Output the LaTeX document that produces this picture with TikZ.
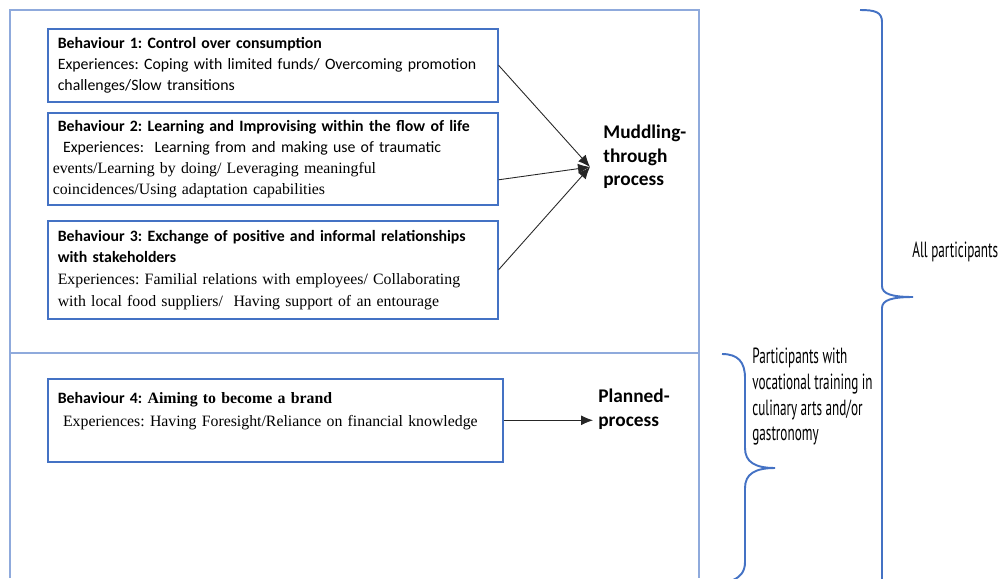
\documentclass[tikz,border=0pt]{standalone}
\usepackage{fontspec}
\setmainfont{Liberation Serif}
\newfontfamily\calibri{Carlito}
\newfontfamily\agency[FakeStretch=0.6]{PT Sans}
\usepackage{tikz}
\usetikzlibrary{calc,arrows.meta}
\usepackage{xcolor}
\frenchspacing

\definecolor{boxblue}{RGB}{68,114,196}
\definecolor{frameblue}{RGB}{143,170,220}

\tikzset{
    behaviour/.style={draw=boxblue, line width=0.9pt, anchor=north west,
        text width=8.6cm, align=left, inner xsep=2mm, inner ysep=1mm,
        font=\fontsize{9}{12}\selectfont},
    process/.style={anchor=west, align=left, inner xsep=1mm,
        font=\calibri\bfseries\fontsize{11}{13.4}\selectfont},
    grouplabel/.style={align=left, inner sep=0pt,
        font=\agency\fontsize{12.5}{14.6}\selectfont},
    brace/.style={draw=boxblue, line width=1.1pt},
    link/.style={draw=black!85, line width=0.5pt, -{Latex[length=2.4mm,width=2mm]}}
}

\begin{document}
\begin{tikzpicture}[x=0.2mm, y=-0.2mm]
    \useasboundingbox (0,0) rectangle (1003,578);

    % Rahmen und Trennlinie
    \draw[frameblue, line width=0.7pt] (10,578) -- (10,10) -- (699,10) -- (699,578);
    \draw[frameblue, line width=0.7pt] (10,353) -- (699,353);

    % Verhaltensweisen
    \node[behaviour, minimum height=1.46cm] (b1) at (47,28) {%
        {\calibri\textbf{Behaviour 1: Control over consumption}}\\
        {\calibri Experiences: Coping with limited funds/ Overcoming promotion}\\
        {\calibri challenges/Slow transitions}};
    \node[behaviour, minimum height=1.84cm] (b2) at (47,112) {%
        {\calibri\textbf{Behaviour 2: Learning and Improvising within the flow of life}}\\
        {\calibri\ Experiences:\ \ Learning from and making use of traumatic}\\
        \hspace*{-1mm}events/Learning by doing/ Leveraging meaningful\\
        \hspace*{-1mm}coincidences/Using adaptation capabilities};
    \node[behaviour, minimum height=1.96cm, font=\fontsize{9}{12.3}\selectfont] (b3) at (47,220) {%
        {\calibri\textbf{Behaviour 3: Exchange of positive and informal relationships}}\\
        {\calibri\textbf{with stakeholders}}\\
        Experiences: Familial relations with employees/ Collaborating\\
        with local food suppliers/\ \ Having support of an entourage};
    \node[behaviour, text depth=10.6mm, text width=8.7cm, font=\fontsize{9}{13}\selectfont] (b4) at (47,378) {%
        \rule{0pt}{4mm}{\calibri\textbf{Behaviour 4:}} \textbf{Aiming to become a brand}\\
        \ Experiences: Having Foresight/Reliance on financial knowledge};

    % Prozesse
    \node[process] (mud) at (598,157) {Muddling-\\through\\process};
    \node[process] (plan) at (593,409) {Planned-\\process};

    \coordinate (meet) at (590,167);
    \draw[link] (b1.east) -- (meet);
    \draw[link] ([yshift=-4.2mm]b2.east) -- (meet);
    \draw[link] (b3.east) -- (meet);
    \draw[link] (b4.east) -- (b4.east -| plan.west);

    % Klammern fuer die Teilnehmergruppen
    \draw[brace] (860,10) .. controls (875,10) and (882,12) .. (882,22)
        -- (882,286) .. controls (882,294) and (892,297) .. (913,297)
        .. controls (892,297) and (882,300) .. (882,308) -- (882,580);
    \draw[brace] (722,354) .. controls (738,354) and (745,362) .. (745,378)
        -- (745,448) .. controls (745,462) and (755,468) .. (775,468)
        .. controls (755,468) and (745,474) .. (745,488)
        -- (745,562) .. controls (745,572) and (740,577) .. (733,580);

    \node[grouplabel, anchor=west] (all) at (912,252) {All participants};
    \node[grouplabel, anchor=north west] (voc) at (752,348)
        {Participants with\\vocational training in\\culinary arts and/or\\gastronomy};
\end{tikzpicture}
\end{document}
